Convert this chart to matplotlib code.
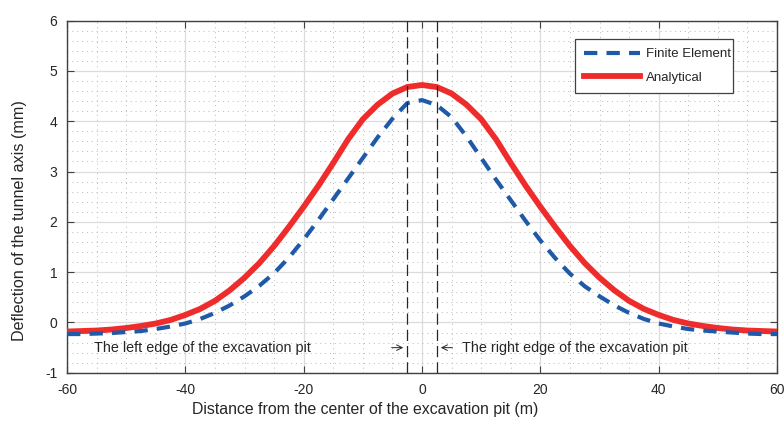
import numpy as np
import matplotlib.pyplot as plt
from matplotlib.ticker import MultipleLocator

plt.rcParams['font.family'] = ['Liberation Sans', 'DejaVu Sans']
plt.rcParams['axes.unicode_minus'] = False

# distance from pit centre (m)
distance = [-60, -57.5, -55, -52.5, -50, -47.5, -45, -42.5, -40, -37.5, -35, -32.5,
            -30, -27.5, -25, -22.5, -20, -17.5, -15, -12.5, -10, -7.5, -5, -2.5,
            0, 2.5, 5, 7.5, 10, 12.5, 15, 17.5, 20, 22.5, 25, 27.5, 30, 32.5,
            35, 37.5, 40, 42.5, 45, 47.5, 50, 52.5, 55, 57.5, 60]

finite_element = [-0.23, -0.23, -0.22, -0.21, -0.19, -0.17, -0.13, -0.08, -0.02, 0.07, 0.19, 0.34,
                  0.52, 0.73, 0.98, 1.29, 1.65, 2.04, 2.45, 2.86, 3.27, 3.68, 4.05, 4.36,
                  4.42, 4.32, 4.08, 3.70, 3.27, 2.84, 2.43, 2.02, 1.63, 1.28, 0.97, 0.72, 0.52, 0.34,
                  0.19, 0.07, -0.02, -0.08, -0.13, -0.16, -0.18, -0.20, -0.22, -0.23, -0.23]

analytical = [-0.18, -0.17, -0.16, -0.14, -0.11, -0.07, -0.02, 0.05, 0.15, 0.27, 0.43, 0.64,
              0.89, 1.18, 1.52, 1.90, 2.30, 2.72, 3.17, 3.64, 4.04, 4.33, 4.55, 4.68,
              4.72, 4.68, 4.55, 4.33, 4.04, 3.64, 3.17, 2.72, 2.30, 1.90, 1.52, 1.18, 0.89, 0.64,
              0.43, 0.27, 0.15, 0.05, -0.02, -0.07, -0.11, -0.14, -0.16, -0.17, -0.18]

pit_edges = [-2.5, 2.5]

fig = plt.figure(figsize=(7.84, 4.29), dpi=100)
ax = fig.add_axes([0.0855, 0.131, 0.9056, 0.821])

ax.plot(distance, finite_element, color='#1f5aa8', lw=3, dashes=(3.2, 2.2),
        label='Finite Element', zorder=4, solid_joinstyle='round')
ax.plot(distance, analytical, color='#ee2c2c', lw=4.2, label='Analytical', zorder=3,
        solid_joinstyle='round')

for xe in pit_edges:
    ax.axvline(xe, color='#262626', lw=0.9, dashes=(9, 4), zorder=5)

txt = '#262626'
ax.text(-55.5, -0.5, 'The left edge of the excavation pit', fontsize=10.4, color=txt, va='center')
ax.text(6.7, -0.5, 'The right edge of the excavation pit', fontsize=10.4, color=txt, va='center')
ax.annotate('', xy=(-2.7, -0.5), xytext=(-5.6, -0.5),
            arrowprops=dict(arrowstyle='->', lw=0.7, color=txt))
ax.annotate('', xy=(2.7, -0.5), xytext=(5.6, -0.5),
            arrowprops=dict(arrowstyle='->', lw=0.7, color=txt))

ax.set_xlim(-60, 60)
ax.set_ylim(-1, 6)
ax.xaxis.set_major_locator(MultipleLocator(20))
ax.xaxis.set_minor_locator(MultipleLocator(5))
ax.yaxis.set_major_locator(MultipleLocator(1))
ax.yaxis.set_minor_locator(MultipleLocator(0.2))

ax.grid(which='major', color='#dcdcdc', lw=0.9)
ax.grid(which='minor', color='#b8b8b8', lw=0.7, linestyle=(0, (1, 4)))
ax.set_axisbelow(True)

ax.tick_params(which='major', direction='in', length=5, width=0.8, color='#404040',
               top=True, right=True, labelsize=10, labelcolor=txt, pad=7)
ax.tick_params(which='minor', length=0)
for s in ax.spines.values():
    s.set_color('#404040')
    s.set_linewidth(1.0)

ax.set_xlabel('Distance from the center of the excavation pit (m)', fontsize=11.4, color=txt)
ax.set_ylabel('Deflection of the tunnel axis (mm)', fontsize=11.6, color=txt)
ax.xaxis.set_label_coords(0.42, -0.083)
ax.yaxis.set_label_coords(-0.056, 0.431)

leg = ax.legend(loc='upper left', bbox_to_anchor=(0.7155, 0.0, 0.2225, 0.948), mode='expand',
                fontsize=9.5, handlelength=4.2, handletextpad=0.45, fancybox=False,
                framealpha=1, edgecolor='#404040', borderaxespad=0, borderpad=0.7,
                labelspacing=0.85)
leg.get_frame().set_linewidth(0.9)
for t in leg.get_texts():
    t.set_color(txt)

fig.savefig('out.png', dpi=100)
